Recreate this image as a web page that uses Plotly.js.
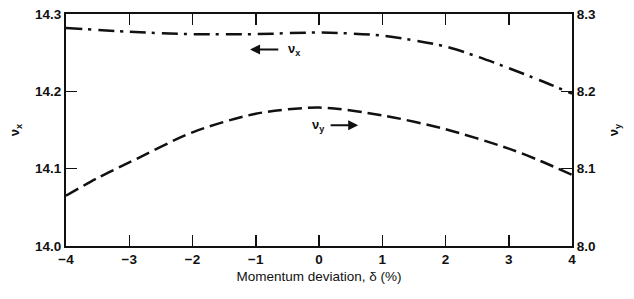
<!DOCTYPE html>
<html>
<head>
<meta charset="utf-8">
<script src="https://cdn.plot.ly/plotly-3.0.1.min.js"></script>
<style>html,body{margin:0;padding:0;background:#fff;}#chart{width:634px;height:299px;}</style>
</head>
<body>
<div id="chart"></div>
<script>
// Momentum deviation (%)
const delta = [-4, -3, -2, -1, 0, 1, 2, 2.5, 3, 3.5, 4];
// Horizontal tune nu_x (left axis)
const nuX = [14.282, 14.277, 14.274, 14.274, 14.276, 14.272, 14.258, 14.245, 14.230, 14.214, 14.197];
// Vertical tune nu_y (right axis)
const deltaY = [-4, -3.5, -3, -2, -1, 0, 1, 2, 3, 3.5, 4];
const nuY = [8.065, 8.088, 8.108, 8.147, 8.171, 8.179, 8.169, 8.151, 8.126, 8.110, 8.092];

const xTicks = [-4, -3, -2, -1, 0, 1, 2, 3, 4];
const xTickText = ['\u22124', '\u22123', '\u22122', '\u22121', '0', '1', '2', '3', '4'];
const yTicks = [14.0, 14.1, 14.2, 14.3];
const yTickText = ['14.0', '14.1', '14.2', '14.3'];
const y2Ticks = [8.0, 8.1, 8.2, 8.3];
const y2TickText = ['8.0', '8.1', '8.2', '8.3'];

const FAM = 'Liberation Sans, Arial, sans-serif';
const tickFont = {family: FAM, size: 13.5, color: '#111', weight: 'bold'};

const traces = [
  {x: delta, y: nuX, mode: 'lines', yaxis: 'y', line: {color: '#111', width: 2.5, dash: '16px,6px,3px,7px', shape: 'spline', smoothing: 0.8}, hoverinfo: 'none'},
  {x: deltaY, y: nuY, mode: 'lines', yaxis: 'y2', line: {color: '#111', width: 2.5, dash: '14px,6px', shape: 'spline', smoothing: 0.8}, hoverinfo: 'none'}
];

const layout = {
  width: 634, height: 299,
  margin: {l: 66, r: 62, t: 14, b: 53},
  paper_bgcolor: '#fff', plot_bgcolor: '#fff',
  showlegend: false,
  xaxis: {
    range: [-4, 4], tickvals: xTicks, ticktext: xTickText,
    ticks: 'inside', ticklen: 11, tickwidth: 1.5, tickcolor: '#111',
    showline: true, linecolor: '#111', linewidth: 2, mirror: 'ticks',
    showgrid: false, zeroline: false, tickfont: tickFont,
    title: {text: 'Momentum deviation, \u03b4 (%)', font: {family: FAM, size: 13.5, color: '#111'}, standoff: 5}
  },
  yaxis: {
    range: [14.0, 14.3], tickvals: yTicks, ticktext: yTickText,
    ticks: 'inside', ticklen: 11, tickwidth: 1.5, tickcolor: '#111',
    showline: true, linecolor: '#111', linewidth: 2,
    showgrid: false, zeroline: false, tickfont: tickFont,
    title: {text: '\u03bd<sub>x</sub>', font: {family: FAM, size: 13, color: '#111', weight: 'bold'}, standoff: 12}
  },
  yaxis2: {
    range: [8.0, 8.3], tickvals: y2Ticks, ticktext: y2TickText,
    overlaying: 'y', side: 'right',
    ticks: 'inside', ticklen: 11, tickwidth: 1.5, tickcolor: '#111',
    showline: true, linecolor: '#111', linewidth: 2,
    showgrid: false, zeroline: false, tickfont: tickFont,
    title: {text: '\u03bd<sub>y</sub>', font: {family: FAM, size: 13, color: '#111', weight: 'bold'}, standoff: 14}
  },
  annotations: [
    {x: -1.09, y: 14.254, ax: -0.62, ay: 14.254, xref: 'x', yref: 'y', axref: 'x', ayref: 'y', text: '', showarrow: true, arrowhead: 2, arrowsize: 1, arrowwidth: 2, arrowcolor: '#111'},
    {x: -0.52, y: 14.254, xref: 'x', yref: 'y', text: '\u03bd<sub>x</sub>', showarrow: false, xanchor: 'left', yanchor: 'middle', font: {family: FAM, size: 13, color: '#111', weight: 'bold'}},
    {x: 0.62, y: 14.156, ax: 0.16, ay: 14.156, xref: 'x', yref: 'y', axref: 'x', ayref: 'y', text: '', showarrow: true, arrowhead: 2, arrowsize: 1, arrowwidth: 2, arrowcolor: '#111'},
    {x: 0.12, y: 14.156, xref: 'x', yref: 'y', text: '\u03bd<sub>y</sub>', showarrow: false, xanchor: 'right', yanchor: 'middle', font: {family: FAM, size: 13, color: '#111', weight: 'bold'}}
  ]
};

Plotly.newPlot('chart', traces, layout, {staticPlot: true, displayModeBar: false});
</script>
</body>
</html>
